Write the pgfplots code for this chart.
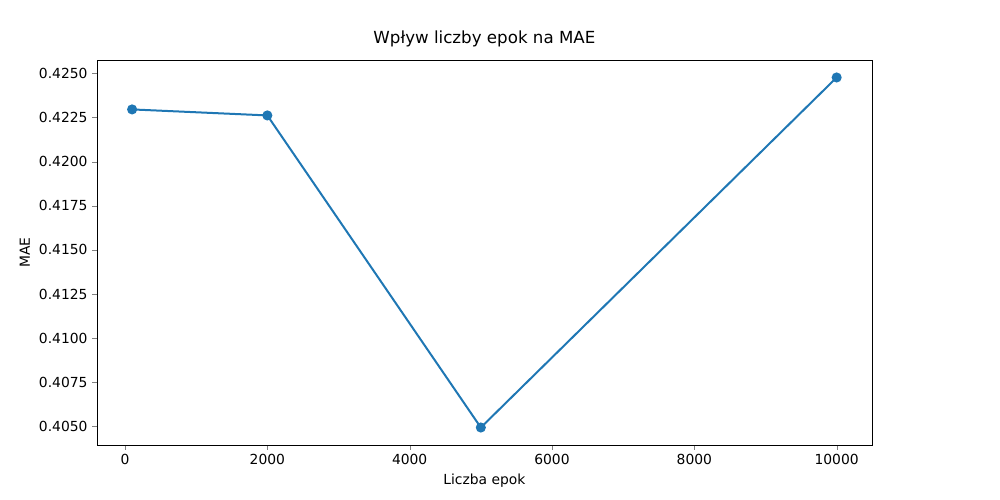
\documentclass[border=0pt]{standalone}
\usepackage{pgfplots}
\pgfplotsset{compat=1.18}
\usepackage{fontspec}
\setmainfont{DejaVu Sans}
\begin{document}
\begin{tikzpicture}
\path[use as bounding box] (-93.75pt,-41.25pt) rectangle (656.25pt,333.75pt);
\begin{scope}[overlay]
\begin{axis}[
  at={(0,0)}, anchor=origin,
  scale only axis, width=581.25pt, height=288.75pt,
  xmin=-395, xmax=10495, ymin=0.40395, ymax=0.42576,
  xtick={0,2000,4000,6000,8000,10000},
  ytick={0.405,0.4075,0.41,0.4125,0.415,0.4175,0.42,0.4225,0.425},
  /pgf/number format/assume math mode=true,
  xticklabel style={/pgf/number format/1000 sep={}},
  yticklabel style={/pgf/number format/.cd,fixed,fixed zerofill,precision=4},
  scaled y ticks=false, scaled x ticks=false,
  tick label style={font=\fontsize{10.4}{12}\selectfont},
  label style={font=\fontsize{10.4}{12}\selectfont},
  title style={font=\fontsize{12.5}{15}\selectfont},
  title={Wpływ liczby epok na MAE},
  xlabel={Liczba epok}, ylabel={MAE},
  tick align=outside, xtick pos=bottom, ytick pos=left,
  major tick length=3.5pt,
]
\addplot[color={rgb,255:red,31;green,119;blue,180}, line width=1.5pt, mark=*, mark size=3pt]
coordinates {(100,0.42296) (2000,0.42262) (5000,0.40494) (10000,0.42477)};
\end{axis}
\end{scope}
\end{tikzpicture}
\end{document}
